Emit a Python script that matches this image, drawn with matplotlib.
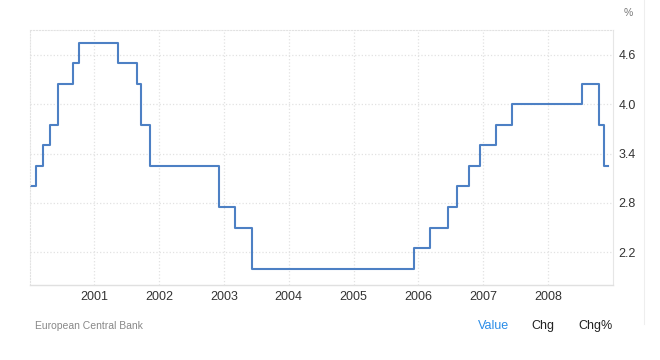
import matplotlib
matplotlib.use("Agg")
import matplotlib.pyplot as plt
import pandas as pd

plt.rcParams['font.family'] = ['Liberation Sans', 'DejaVu Sans']

# ECB main refinancing rate, change dates and new level
change_dates = ['2000-01-01', '2000-02-04', '2000-03-17', '2000-04-28', '2000-06-09',
                '2000-09-01', '2000-10-06', '2001-05-11', '2001-08-31', '2001-09-18',
                '2001-11-09', '2002-12-06', '2003-03-07', '2003-06-06', '2005-12-06',
                '2006-03-08', '2006-06-15', '2006-08-09', '2006-10-11', '2006-12-13',
                '2007-03-14', '2007-06-13', '2008-07-09', '2008-10-15', '2008-11-12',
                '2008-12-05']
rates = [3.0, 3.25, 3.5, 3.75, 4.25, 4.5, 4.75, 4.5, 4.25, 3.75,
         3.25, 2.75, 2.5, 2.0, 2.25, 2.5, 2.75, 3.0, 3.25, 3.5,
         3.75, 4.0, 4.25, 3.75, 3.25, 3.25]
year_ticks = [2001, 2002, 2003, 2004, 2005, 2006, 2007, 2008]
y_ticks = [2.2, 2.8, 3.4, 4.0, 4.6]

dates = pd.to_datetime(change_dates)

fig = plt.figure(figsize=(6.6, 3.6), dpi=100)
ax = fig.add_axes([0.0447, 0.2083, 0.9283 - 0.0447, 0.918 - 0.2083])

ax.plot(dates, rates, drawstyle='steps-post', color='#4d80c4', linewidth=1.5)

ax.set_xlim(pd.Timestamp('2000-01-01'), pd.Timestamp('2008-12-31'))
ax.set_ylim(1.80, 4.91)

ax.set_xticks([pd.Timestamp(f'{y}-01-01') for y in year_ticks])
ax.set_xticklabels([str(y) for y in year_ticks])
ax.set_yticks(y_ticks)
ax.set_yticklabels([f'{v:.1f}' for v in y_ticks])

ax.yaxis.tick_right()
ax.tick_params(axis='both', length=0, labelsize=9, colors='#333333')
ax.tick_params(axis='x', pad=4)
ax.tick_params(axis='y', pad=4)

ax.grid(True, color='#e2e2e2', linestyle=':', linewidth=0.9)
ax.set_axisbelow(True)

for side in ['left', 'top']:
    ax.spines[side].set_color('#e2e2e2')
    ax.spines[side].set_linestyle(':')
ax.spines['right'].set_color('#e6e6e6')
ax.spines['bottom'].set_color('#e0e0e0')
ax.spines['bottom'].set_linewidth(1.0)

fig.text(0.952, 0.965, '%', fontsize=7.5, color='#777777', ha='center', va='center')
fig.text(0.053, 0.094, 'European Central Bank', fontsize=7.5, color='#888888', va='center')
fig.text(0.748, 0.094, 'Value', fontsize=9, color='#2a8de8', ha='center', va='center')
fig.text(0.823, 0.094, 'Chg', fontsize=9, color='#222222', ha='center', va='center')
fig.text(0.903, 0.094, 'Chg%', fontsize=9, color='#222222', ha='center', va='center')

fig.add_artist(plt.Line2D([0.975, 0.975], [0.1, 1.0], color='#eeeeee', linewidth=0.8,
                          transform=fig.transFigure))

fig.savefig('out.png', dpi=100)
